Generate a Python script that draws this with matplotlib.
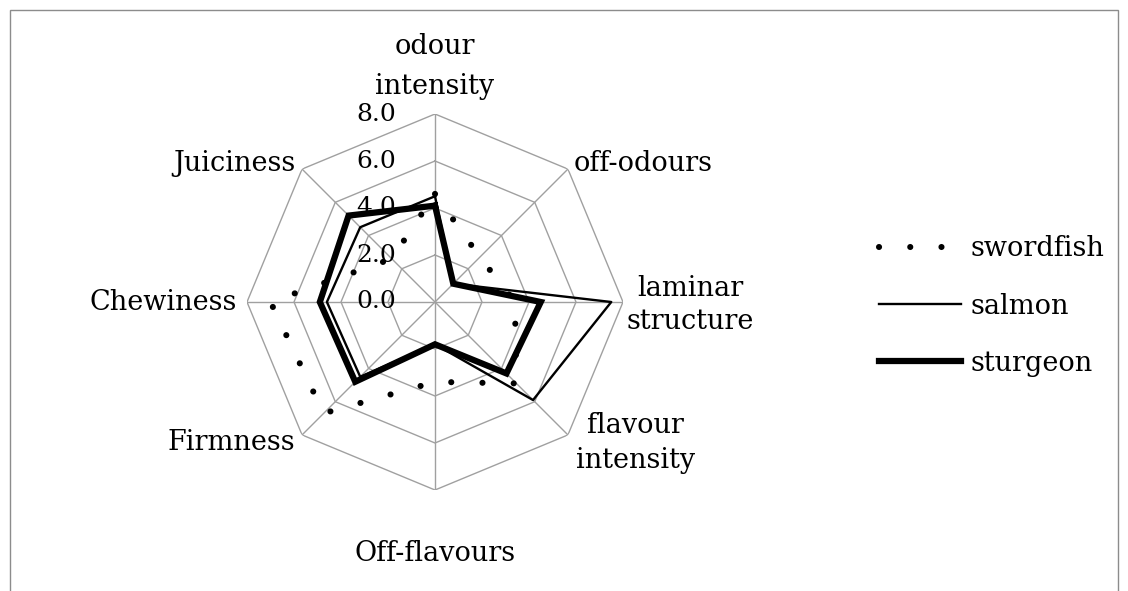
import numpy as np
import matplotlib
matplotlib.use("Agg")
import matplotlib.pyplot as plt
from matplotlib.patches import Rectangle

# axes clockwise from the top
categories = ["odour\nintensity", "off-odours", "laminar\nstructure",
              "flavour\nintensity", "Off-flavours", "Firmness",
              "Chewiness", "Juiciness"]
swordfish = [4.6, 2.7, 3.4, 4.9, 3.4, 6.7, 7.0, 2.6]
salmon = [4.5, 1.1, 7.5, 5.9, 1.8, 4.5, 4.6, 4.5]
sturgeon = [4.1, 1.1, 4.5, 4.3, 1.8, 4.8, 4.9, 5.2]
ticks = [0.0, 2.0, 4.0, 6.0, 8.0]

plt.rcParams["font.family"] = ["DejaVu Serif"]

W, H, DPI = 1128, 591, 100
fig = plt.figure(figsize=(W / DPI, H / DPI), dpi=DPI)

# outer frame
fig.add_artist(Rectangle((10 / W, -0.05), 1108 / W, 1.05 - 10 / H,
                         transform=fig.transFigure, fill=False,
                         ec="#8c8c8c", lw=1))

cx, cy, R = 435, 302, 188
ax = fig.add_axes([(cx - R) / W, 1 - (cy + R) / H, 2 * R / W, 2 * R / H],
                  projection="polar")
ax.set_theta_zero_location("N")
ax.set_theta_direction(-1)
ax.set_ylim(0, ticks[-1])
ax.axis("off")

n = len(categories)
theta = np.arange(n) * 2 * np.pi / n
closed = np.append(theta, theta[0])

# octagon grid
grid = dict(color="#a0a0a0", lw=1.0, zorder=1)
for t in ticks[1:]:
    ax.plot(closed, [t] * (n + 1), **grid)
for th in theta:
    ax.plot([th, th], [0, ticks[-1]], **grid)

for t in ticks:
    ax.annotate(f"{t:.1f}", xy=(0, t), xytext=(-28, 0),
                textcoords="offset points", ha="right", va="center",
                fontsize=18)

# category labels: (ha, va, dx px, dy px, line spacing)
place = [("center", "bottom", 0, 14, 1.6), ("left", "center", 6, 6, 1.3),
         ("left", "center", 4, -3, 1.3), ("left", "center", 8, -8, 1.35),
         ("center", "top", 0, -50, 1.3), ("right", "center", -7, -8, 1.3),
         ("right", "center", -10, 0, 1.3), ("right", "center", -7, 6, 1.3)]
for th, lab, (ha, va, dx, dy, ls) in zip(theta, categories, place):
    ax.annotate(lab, xy=(th, ticks[-1]), xytext=(dx * 0.72, dy * 0.72),
                textcoords="offset points", ha=ha, va=va,
                multialignment="center", fontsize=19.5, linespacing=ls)

ax.plot(closed, swordfish + swordfish[:1], color="black", lw=4.4,
        linestyle=(0, (0.01, 5.1)), dash_capstyle="round",
        label="swordfish", zorder=3)
ax.plot(closed, salmon + salmon[:1], color="black", lw=1.7,
        label="salmon", zorder=4)
ax.plot(closed, sturgeon + sturgeon[:1], color="black", lw=4.5,
        solid_joinstyle="miter", label="sturgeon", zorder=5)

fig.legend(loc="center left", bbox_to_anchor=(868 / W, 1 - 306 / H),
           frameon=False, fontsize=19.5, handlelength=3.05,
           handletextpad=0.35, labelspacing=1.12, borderaxespad=0)

fig.savefig("out.png", dpi=DPI)
